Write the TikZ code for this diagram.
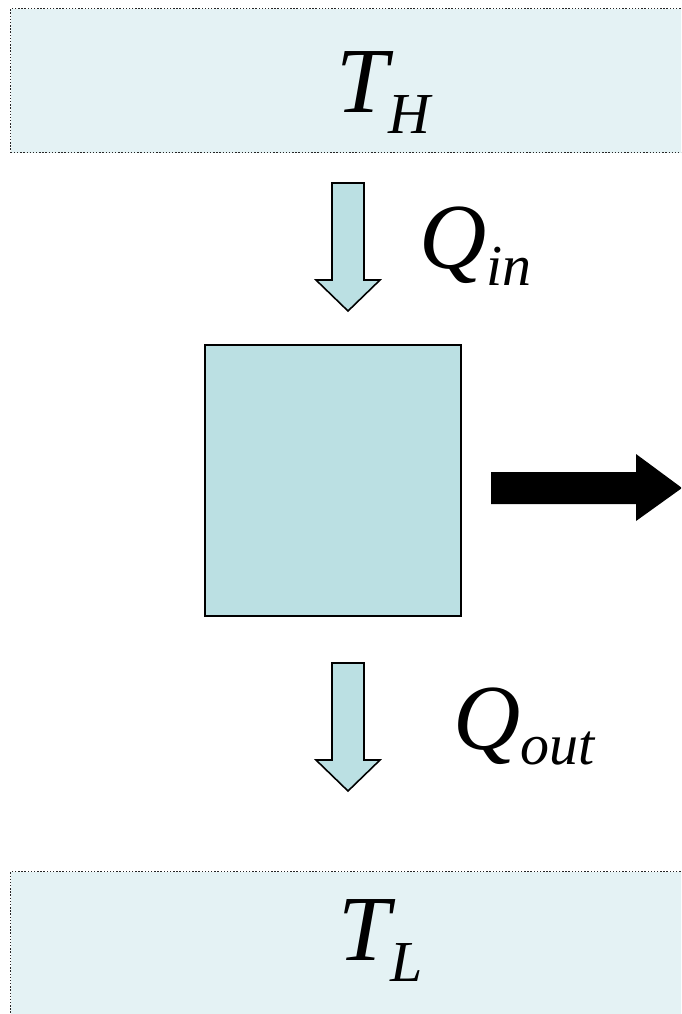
\documentclass[tikz,border=0pt]{standalone}
\usepackage{fontspec}
\setmainfont{Liberation Serif}
\usetikzlibrary{positioning}
\definecolor{resfill}{RGB}{228,242,244}
\definecolor{enginefill}{RGB}{187,224,227}
\newcommand{\bigsym}[3]{\fontsize{53}{60}\selectfont\itshape #1\raisebox{-#3}{\fontsize{33}{40}\selectfont #2}}
\tikzset{
  reservoir/.style={draw=black!85,densely dotted,line width=0.8pt,fill=resfill,
    anchor=north west,minimum width=13.8cm,minimum height=2.88cm,inner sep=0pt},
  heatarrow/.style={draw,fill=enginefill,line width=0.9pt,line join=miter},
  symlabel/.style={anchor=base west,inner sep=0pt}
}
\begin{document}
\begin{tikzpicture}[x=0.02cm,y=-0.02cm]
\clip (0,0) rectangle (681,1014);
\fill[white] (0,0) rectangle (681,1014);
% reservoirs
\node[reservoir] (hot) at (10,8) {};
\node[reservoir] (cold) at (10,871) {};
\node[symlabel] (th) at (336,112) {\bigsym{T}{H}{12pt}};
\node[symlabel] (tl) at (338,960) {\bigsym{T}{L}{12pt}};
% engine
\node[draw,fill=enginefill,line width=1.3pt,anchor=north west,minimum width=5.12cm,minimum height=5.42cm,inner sep=0pt] (engine) at (204,344) {};
% heat flows
\foreach \y in {183,663}
  \draw[heatarrow] (332,\y) -- ++(32,0) -- ++(0,97) -- ++(16,0) -- ++(-32,31) -- ++(-32,-31) -- ++(16,0) -- cycle;
\node[symlabel] (qin) at (419,268) {\bigsym{Q}{in}{10pt}};
\node[symlabel] (qout) at (453,749) {\bigsym{Q}{out}{9pt}};
% work output
\fill (491,472) -- (636,472) -- (636,454) -- (682,488) -- (636,521) -- (636,504) -- (491,504) -- cycle;
\end{tikzpicture}
\end{document}
